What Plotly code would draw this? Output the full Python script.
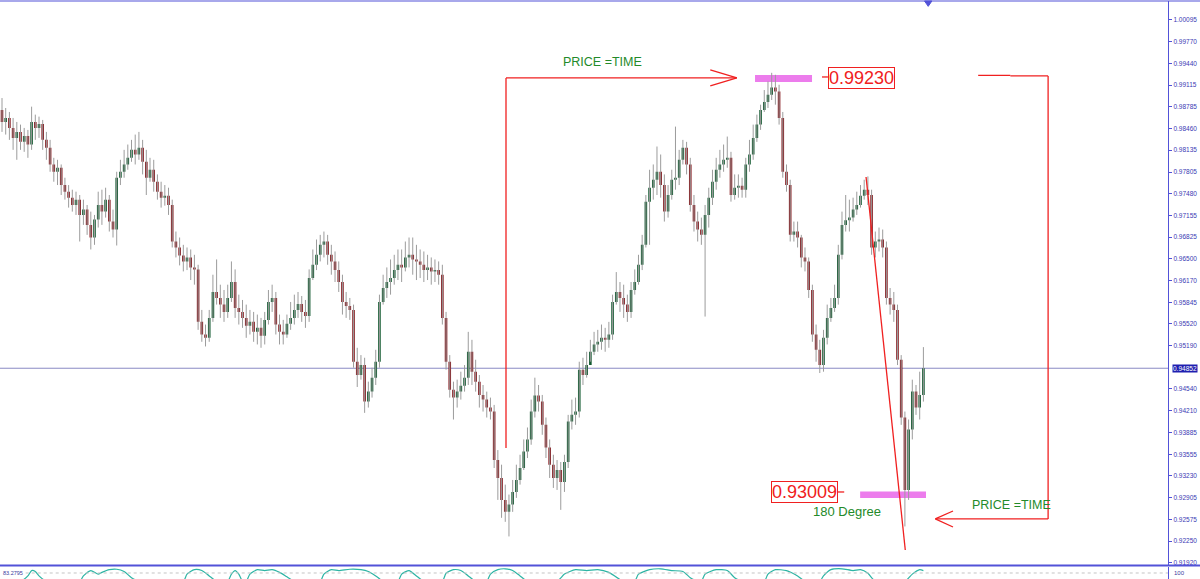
import plotly.graph_objects as go

# candle values, in pips (1 pip = 0.0001)
open_pips = [
    9874, 9856, 9862, 9847, 9832, 9841, 9826, 9835, 9822, 9856, 9847, 9853, 9829, 9817, 9792, 9781, 9787, 9761, 9751, 9742,
    9731, 9739, 9716, 9724, 9701, 9682, 9709, 9731, 9721, 9739, 9706, 9694, 9772, 9781, 9792, 9802, 9814, 9807, 9817, 9796,
    9772, 9784, 9766, 9751, 9742, 9745, 9731, 9676, 9667, 9655, 9646, 9652, 9637, 9634, 9555, 9536, 9531, 9561, 9600, 9591,
    9581, 9570, 9591, 9615, 9576, 9570, 9561, 9549, 9555, 9540, 9546, 9534, 9558, 9585, 9591, 9551, 9540, 9536, 9552, 9561,
    9573, 9582, 9570, 9564, 9621, 9641, 9656, 9671, 9676, 9656, 9646, 9633, 9615, 9585, 9579, 9573, 9495, 9475, 9490, 9435,
    9450, 9471, 9495, 9585, 9606, 9615, 9621, 9633, 9641, 9637, 9652, 9656, 9649, 9646, 9641, 9633, 9637, 9631, 9633, 9626,
    9561, 9495, 9453, 9441, 9450, 9459, 9471, 9510, 9480, 9465, 9445, 9438, 9426, 9420, 9347, 9320, 9287, 9269, 9280, 9299,
    9317, 9335, 9360, 9378, 9420, 9444, 9435, 9400, 9366, 9340, 9320, 9332, 9314, 9344, 9405, 9415, 9420, 9483, 9475, 9490,
    9510, 9521, 9525, 9531, 9528, 9536, 9585, 9600, 9591, 9581, 9570, 9603, 9615, 9641, 9671, 9736, 9757, 9769, 9781, 9761,
    9721, 9746, 9769, 9772, 9799, 9817, 9792, 9731, 9706, 9694, 9686, 9716, 9742, 9766, 9784, 9792, 9799, 9802, 9746, 9757,
    9760, 9754, 9792, 9807, 9832, 9852, 9874, 9886, 9897, 9908, 9902, 9862, 9781, 9761, 9686, 9691, 9682, 9652, 9646, 9603,
    9536, 9513, 9490, 9531, 9561, 9576, 9591, 9656, 9701, 9708, 9712, 9724, 9731, 9745, 9754, 9746, 9667, 9676, 9679, 9667,
    9591, 9581, 9573, 9498, 9411, 9302, 9393, 9450, 9426, 9445,
]
high_pips = [
    9892, 9877, 9871, 9862, 9856, 9852, 9847, 9844, 9879, 9867, 9864, 9859, 9841, 9829, 9802, 9799, 9792, 9772, 9761, 9754,
    9751, 9746, 9739, 9731, 9721, 9716, 9751, 9754, 9757, 9746, 9724, 9781, 9799, 9814, 9822, 9829, 9837, 9841, 9829, 9814,
    9802, 9799, 9777, 9766, 9761, 9757, 9739, 9691, 9682, 9671, 9667, 9664, 9656, 9641, 9573, 9551, 9573, 9626, 9649, 9611,
    9603, 9611, 9646, 9634, 9596, 9588, 9581, 9573, 9570, 9566, 9561, 9570, 9603, 9611, 9600, 9566, 9558, 9566, 9585, 9596,
    9600, 9594, 9588, 9634, 9664, 9679, 9686, 9691, 9686, 9671, 9661, 9646, 9626, 9600, 9591, 9581, 9516, 9505, 9501, 9465,
    9486, 9513, 9596, 9626, 9637, 9649, 9656, 9664, 9664, 9676, 9682, 9682, 9671, 9664, 9661, 9656, 9652, 9649, 9646, 9641,
    9570, 9505, 9465, 9468, 9480, 9490, 9540, 9528, 9498, 9475, 9460, 9450, 9441, 9430, 9362, 9340, 9310, 9295, 9317, 9340,
    9355, 9378, 9396, 9438, 9471, 9460, 9445, 9411, 9378, 9355, 9347, 9344, 9355, 9415, 9438, 9441, 9495, 9501, 9510, 9528,
    9540, 9543, 9551, 9546, 9555, 9596, 9630, 9615, 9611, 9596, 9615, 9634, 9656, 9686, 9746, 9784, 9792, 9819, 9807, 9777,
    9761, 9784, 9849, 9814, 9829, 9826, 9802, 9746, 9721, 9712, 9731, 9757, 9784, 9802, 9814, 9822, 9834, 9811, 9777, 9777,
    9772, 9802, 9829, 9852, 9867, 9882, 9904, 9917, 9930, 9927, 9912, 9871, 9792, 9769, 9706, 9706, 9686, 9667, 9652, 9611,
    9551, 9528, 9543, 9581, 9591, 9611, 9671, 9721, 9746, 9739, 9742, 9751, 9761, 9769, 9774, 9754, 9691, 9697, 9694, 9676,
    9606, 9600, 9581, 9505, 9420, 9408, 9468, 9460, 9480, 9517,
]
low_pips = [
    9841, 9837, 9829, 9814, 9799, 9814, 9811, 9802, 9814, 9829, 9832, 9814, 9799, 9781, 9766, 9761, 9746, 9739, 9727, 9721,
    9716, 9676, 9701, 9686, 9664, 9671, 9697, 9701, 9712, 9691, 9682, 9670, 9761, 9772, 9784, 9796, 9792, 9799, 9777, 9746,
    9766, 9751, 9739, 9727, 9730, 9716, 9667, 9652, 9640, 9631, 9633, 9618, 9611, 9543, 9525, 9518, 9525, 9555, 9581, 9561,
    9555, 9561, 9585, 9561, 9551, 9546, 9531, 9536, 9525, 9521, 9516, 9521, 9551, 9570, 9536, 9521, 9521, 9531, 9543, 9551,
    9561, 9555, 9546, 9555, 9618, 9633, 9646, 9652, 9641, 9626, 9615, 9600, 9566, 9561, 9558, 9486, 9457, 9468, 9418, 9426,
    9441, 9460, 9486, 9581, 9591, 9596, 9611, 9618, 9615, 9631, 9637, 9626, 9618, 9621, 9615, 9618, 9611, 9615, 9611, 9551,
    9483, 9441, 9408, 9426, 9438, 9450, 9460, 9460, 9450, 9426, 9420, 9411, 9408, 9335, 9287, 9260, 9254, 9232, 9269, 9290,
    9310, 9332, 9350, 9370, 9411, 9420, 9385, 9350, 9320, 9305, 9302, 9272, 9299, 9335, 9393, 9400, 9411, 9460, 9471, 9495,
    9505, 9510, 9513, 9510, 9516, 9528, 9581, 9570, 9561, 9555, 9561, 9596, 9611, 9633, 9667, 9671, 9739, 9746, 9742, 9706,
    9712, 9739, 9754, 9761, 9792, 9777, 9721, 9691, 9676, 9671, 9563, 9697, 9731, 9754, 9772, 9781, 9787, 9736, 9739, 9742,
    9742, 9742, 9781, 9799, 9826, 9844, 9871, 9877, 9889, 9882, 9852, 9772, 9751, 9676, 9676, 9667, 9637, 9631, 9591, 9525,
    9495, 9478, 9480, 9521, 9555, 9570, 9581, 9649, 9691, 9691, 9706, 9716, 9727, 9739, 9731, 9656, 9652, 9661, 9652, 9581,
    9566, 9555, 9490, 9400, 9247, 9287, 9378, 9415, 9408, 9435,
]
close_pips = [
    9856, 9862, 9847, 9832, 9841, 9826, 9835, 9822, 9856, 9847, 9853, 9829, 9817, 9792, 9781, 9787, 9761, 9751, 9742, 9731,
    9739, 9716, 9724, 9701, 9682, 9709, 9731, 9721, 9739, 9706, 9694, 9772, 9781, 9792, 9802, 9814, 9807, 9817, 9796, 9772,
    9784, 9766, 9751, 9742, 9745, 9731, 9676, 9667, 9655, 9646, 9652, 9637, 9634, 9555, 9536, 9531, 9561, 9600, 9591, 9581,
    9570, 9591, 9615, 9576, 9570, 9561, 9549, 9555, 9540, 9546, 9534, 9558, 9585, 9591, 9551, 9540, 9536, 9552, 9561, 9573,
    9582, 9570, 9564, 9621, 9641, 9656, 9671, 9676, 9656, 9646, 9633, 9615, 9585, 9579, 9573, 9495, 9475, 9490, 9435, 9450,
    9471, 9495, 9585, 9606, 9615, 9621, 9633, 9641, 9637, 9652, 9656, 9649, 9646, 9641, 9633, 9637, 9631, 9633, 9626, 9561,
    9495, 9453, 9441, 9450, 9459, 9471, 9510, 9480, 9465, 9445, 9438, 9426, 9420, 9347, 9320, 9287, 9269, 9280, 9299, 9317,
    9335, 9360, 9378, 9420, 9444, 9435, 9400, 9366, 9340, 9320, 9332, 9314, 9344, 9405, 9415, 9420, 9483, 9475, 9490, 9510,
    9521, 9525, 9531, 9528, 9536, 9585, 9600, 9591, 9581, 9570, 9603, 9615, 9641, 9671, 9736, 9757, 9769, 9781, 9761, 9721,
    9746, 9769, 9772, 9799, 9817, 9792, 9731, 9706, 9694, 9686, 9716, 9742, 9766, 9784, 9792, 9799, 9802, 9746, 9757, 9760,
    9754, 9792, 9807, 9832, 9852, 9874, 9886, 9897, 9908, 9902, 9862, 9781, 9761, 9686, 9691, 9682, 9652, 9646, 9603, 9536,
    9513, 9490, 9531, 9561, 9576, 9591, 9656, 9701, 9708, 9712, 9724, 9731, 9745, 9754, 9746, 9667, 9676, 9679, 9667, 9591,
    9581, 9573, 9498, 9411, 9302, 9393, 9450, 9426, 9445, 9485,
]

# oscillator in the bottom window (only the tops above ~76 are visible)
ind_idx = [0, 5, 7, 8, 9, 10, 12, 21, 22, 24, 26, 27, 29, 31, 33, 35, 37, 49, 50, 52, 54, 56, 58,
           61, 62, 63, 64, 65, 66, 67, 69, 71, 73, 75, 77, 79, 86, 87, 89, 91, 94, 97, 99, 101, 103,
           107, 108, 110, 112, 114, 119, 120, 122, 124, 126, 128, 131, 132, 134, 136, 138, 140, 142,
           150, 152, 155, 158, 161, 164, 167, 169, 171, 172, 175, 178, 181, 184, 186, 188,
           189, 190, 193, 196, 198, 200, 206, 207, 209, 212, 215, 217, 221, 222, 224, 227, 230, 232,
           234, 236, 244, 246, 248, 249]
ind_vals = [74, 74, 80, 86, 85, 80, 74, 74, 80, 86, 82, 84, 87, 87.5, 85, 78, 74, 74, 82, 87, 86, 80, 74,
            74, 82, 86, 82, 74, 74, 82, 87, 86, 87, 84, 79, 74, 74, 82, 87, 86, 87.5, 87, 85, 80, 74,
            74, 82, 86, 80, 74, 74, 83, 87, 86, 80, 74, 74, 82, 87, 88, 86, 80, 74,
            74, 82, 87, 86, 87, 84, 76, 74, 74, 82, 87, 88, 86, 85, 78, 74,
            74, 82, 87, 86, 78, 74, 74, 82, 87, 86, 80, 74, 74, 80, 87, 88, 86, 87,
            83, 74, 74, 82, 87, 86]
ind_level = 83.2795

# price scale labels on the right
tick_vals = [1.00095, 0.99770, 0.99440, 0.99115, 0.98785, 0.98460, 0.98135, 0.97805, 0.97480,
             0.97155, 0.96825, 0.96500, 0.96170, 0.95845, 0.95520, 0.95190, 0.94540, 0.94210,
             0.93885, 0.93555, 0.93230, 0.92905, 0.92575, 0.92250, 0.91920]
last_price = 0.94852
top_level = 0.99230
low_level = 0.93009

candle_idx = list(range(len(close_pips)))
opens = [v / 10000 for v in open_pips]
highs = [v / 10000 for v in high_pips]
lows = [v / 10000 for v in low_pips]
closes = [v / 10000 for v in close_pips]

RED = "#f02020"
GREEN = "#238a2a"
PINK = "#ec7cec"
BLUE = "#5252d8"
FONT = "Liberation Sans"

fig = go.Figure()

# grey wicks
fig.add_trace(go.Ohlc(
    x=candle_idx, open=opens, high=highs, low=lows, close=closes,
    increasing=dict(line=dict(color="#9c9c9c", width=1)),
    decreasing=dict(line=dict(color="#9c9c9c", width=1)),
    tickwidth=0, hoverinfo="skip", showlegend=False,
))
# coloured bodies
fig.add_trace(go.Candlestick(
    x=candle_idx, open=opens, high=highs, low=lows, close=closes,
    increasing=dict(fillcolor="#11592f", line=dict(color="#11592f", width=0)),
    decreasing=dict(fillcolor="#861a1f", line=dict(color="#861a1f", width=0)),
    whiskerwidth=0, hoverinfo="skip", showlegend=False,
))

fig.add_trace(go.Scatter(
    x=ind_idx, y=ind_vals, xaxis="x2", yaxis="y2", mode="lines",
    line=dict(color="#2db4a4", width=1.2, shape="spline", smoothing=0.6),
    hoverinfo="skip", showlegend=False,
))


def seg(x0, y0, x1, y1, color=RED, width=1.3):
    fig.add_shape(type="line", x0=x0, y0=y0, x1=x1, y1=y1, xref="x", yref="y",
                  line=dict(color=color, width=width))


# pink level bars
fig.add_shape(type="rect", x0=203.5, x1=218.9, y0=0.99162, y1=0.99268, xref="x", yref="y",
              fillcolor=PINK, line=dict(width=0), layer="below")
fig.add_shape(type="rect", x0=231.9, x1=249.7, y0=0.92899, y1=0.92996, xref="x", yref="y",
              fillcolor=PINK, line=dict(width=0), layer="below")

# current price line
fig.add_shape(type="line", x0=0, x1=1, xref="paper", y0=last_price, y1=last_price, yref="y",
              line=dict(color="#8a8ac4", width=1), layer="below")

# left bracket and arrow to the top
seg(136.2, 0.93651, 136.2, 0.99222)
seg(136.2, 0.99222, 198.4, 0.99222)
seg(191.4, 0.99342, 198.6, 0.99222)
seg(191.4, 0.99102, 198.6, 0.99222)

# right bracket and arrow to the low
seg(263.8, 0.99262, 272.5, 0.99262)
seg(272.5, 0.99252, 282.7, 0.99252)
seg(282.7, 0.99252, 282.7, 0.92583)
seg(282.7, 0.92583, 252.4, 0.92583)
seg(257.0, 0.92703, 252.2, 0.92583)
seg(257.0, 0.92462, 252.2, 0.92583)

# 180 degree line
seg(233.5, 0.97731, 244.1, 0.92116)

# small dashes next to the level boxes
seg(221.6, 0.99237, 223.2, 0.99237)
seg(225.9, 0.92989, 227.6, 0.92989)

# separators / frame
fig.add_shape(type="line", x0=0, x1=1.03, xref="paper", y0=0.9983, y1=0.9983, yref="paper",
              line=dict(color=BLUE, width=1.2))
fig.add_shape(type="line", x0=0, x1=1.03, xref="paper", y0=0.0235, y1=0.0235, yref="paper",
              line=dict(color=BLUE, width=2))
fig.add_shape(type="line", x0=0.022, x1=1, xref="paper", y0=ind_level, y1=ind_level, yref="y2",
              line=dict(color="#c4c4c4", width=1, dash="dot"))
# chart shift marker
fig.add_shape(type="path", path="M 249.3,0.9983 L 251.3,0.9983 L 250.3,0.989 Z", xref="x", yref="paper",
              fillcolor=BLUE, line=dict(color=BLUE, width=1))

fig.add_annotation(x=162.4, y=0.99463, xref="x", yref="y", text="PRICE =TIME", showarrow=False,
                   font=dict(family=FONT, size=12.5, color=GREEN))
fig.add_annotation(x=272.7, y=0.92793, xref="x", yref="y", text="PRICE =TIME", showarrow=False,
                   font=dict(family=FONT, size=12.5, color=GREEN))
fig.add_annotation(x=228.4, y=0.92688, xref="x", yref="y", text="180 Degree", showarrow=False,
                   font=dict(family=FONT, size=13, color=GREEN))
fig.add_annotation(x=232.2, y=0.99229, xref="x", yref="y", text=f"{top_level:.5f}", showarrow=False,
                   font=dict(family=FONT, size=18, color=RED), bordercolor=RED, borderwidth=1,
                   borderpad=0, bgcolor="white")
fig.add_annotation(x=217.0, y=0.92989, xref="x", yref="y", text=f"{low_level:.5f}", showarrow=False,
                   font=dict(family=FONT, size=18, color=RED), bordercolor=RED, borderwidth=1,
                   borderpad=0, bgcolor="white")

# price tag on the axis
fig.add_annotation(x=1.0035, y=last_price, xref="paper", yref="y", text=f"{last_price:.5f}",
                   showarrow=False, xanchor="left", bgcolor="#1f1fb0", borderpad=0,
                   font=dict(family=FONT, size=6.5, color="white"))
fig.add_annotation(x=0.001, y=ind_level, xref="paper", yref="y2", text=f"{ind_level:.4f}",
                   showarrow=False, xanchor="left", font=dict(family=FONT, size=5.5, color="#3a3aa0"))
fig.add_annotation(x=1.0035, y=ind_level, xref="paper", yref="y2", text="100",
                   showarrow=False, xanchor="left", font=dict(family=FONT, size=6, color="#3a3aa0"))

fig.update_layout(
    width=1200, height=579,
    margin=dict(l=0, r=32, t=0, b=0),
    paper_bgcolor="white", plot_bgcolor="white",
    boxgap=0.3, boxgroupgap=0,
    showlegend=False,
    xaxis=dict(range=[-0.54, 315.1], showticklabels=False, showgrid=False, zeroline=False,
               rangeslider=dict(visible=False), fixedrange=True),
    xaxis2=dict(matches="x", anchor="y2", showticklabels=False, showgrid=False, zeroline=False),
    yaxis=dict(domain=[0.0242, 0.9983], range=[0.91890, 1.00381], side="right",
               tickvals=tick_vals, ticktext=[f"{v:.5f}" for v in tick_vals],
               ticks="outside", ticklen=3, tickcolor=BLUE, showline=True, linecolor=BLUE, linewidth=1.2,
               showgrid=False, zeroline=False,
               tickfont=dict(family=FONT, size=6.5, color="#3a3ab4")),
    yaxis2=dict(domain=[0, 0.0207], range=[76.5, 90.0], side="right", anchor="x2",
                showticklabels=False, showline=True, linecolor=BLUE, showgrid=False, zeroline=False),
)

# the page has an 8px body margin by default; drop it so the chart sits at the window's corner
fig.write_html("out.html", config={"displayModeBar": False},
               post_script="document.body.style.margin='0px';")
